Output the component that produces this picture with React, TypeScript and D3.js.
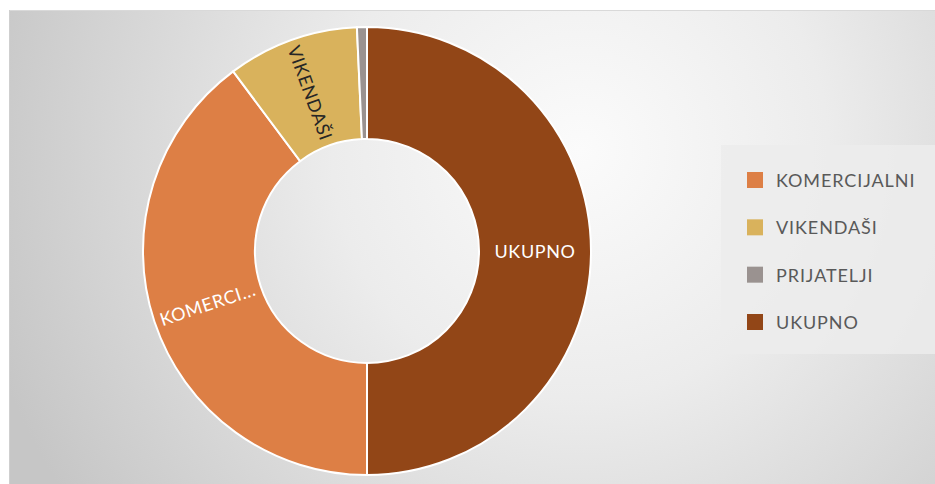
import React from "react";
import * as d3 from "d3";

const categories = ["KOMERCIJALNI", "VIKENDAŠI", "PRIJATELJI", "UKUPNO"];
const values = [832, 198, 15, 1045];
const colors = ["#dd7f45", "#d9b25c", "#9a9290", "#924617"];
const labelColors = ["#ffffff", "#262626", "#ffffff", "#ffffff"];

const W = 935;
const H = 484;
const cx = 367;
const cy = 251;
const outerR = 224;
const innerR = 112;
const FONT = "Lato, 'Open Sans', 'Liberation Sans', sans-serif";

function shortLabel(s: string) {
  return s.length > 9 ? s.slice(0, 7) + "..." : s;
}

export default function App() {
  const data = categories.map((c, i) => ({ name: c, value: values[i], i }));
  const pie = d3
    .pie<any>()
    .value((d) => d.value)
    .sort(null)
    .startAngle(Math.PI)
    .endAngle(3 * Math.PI);
  const arcs = pie(data);
  const arc = d3.arc<any>().innerRadius(innerR).outerRadius(outerR);
  const total = d3.sum(values);

  const legendY = d3.scalePoint<string>().domain(categories).range([180, 322]);

  return (
    <svg
      width={W}
      height={H}
      style={{ position: "absolute", left: 0, top: 0, display: "block" }}
      fontFamily={FONT}
    >
      <defs>
        <radialGradient id="bg" gradientUnits="userSpaceOnUse" cx={580} cy={150} r={620}>
          <stop offset="0" stopColor="#fbfbfb" />
          <stop offset="0.4" stopColor="#ececec" />
          <stop offset="1" stopColor="#c6c6c6" />
        </radialGradient>
      </defs>
      <rect x={0} y={0} width={W} height={H} fill="#ffffff" />
      <rect x={9} y={10} width={W - 9} height={H - 10} fill="url(#bg)" />
      <line x1={9} x2={W} y1={10.5} y2={10.5} stroke="#d9d9d9" />
      <line x1={9.5} x2={9.5} y1={10} y2={H} stroke="#cfcfcf" />
      <g transform={`translate(${cx},${cy})`}>
        {arcs.map((a) => (
          <path key={a.data.name} d={arc(a) as string} fill={colors[a.data.i]} stroke="#ffffff" strokeWidth={2} />
        ))}
        {arcs.map((a) => {
          if (a.data.value / total < 0.03) return null;
          const [x, y] = arc.centroid(a);
          const mid = (((a.startAngle + a.endAngle) / 2) * (180 / Math.PI)) % 360;
          let rot = mid - 270;
          while (rot <= -90) rot += 180;
          while (rot > 90) rot -= 180;
          return (
            <text
              key={"l" + a.data.name}
              transform={`translate(${x},${y}) rotate(${rot})`}
              textAnchor="middle"
              dominantBaseline="central"
              fontSize={18}
              letterSpacing={0.6}
              fill={labelColors[a.data.i]}
            >
              {shortLabel(a.data.name)}
            </text>
          );
        })}
      </g>
      <rect x={721} y={145} width={W - 721} height={209} fill="#ececec" opacity={0.85} />
      {categories.map((c, i) => (
        <g key={"lg" + c} transform={`translate(747,${legendY(c)})`}>
          <rect x={0} y={-8} width={16} height={16} fill={colors[i]} />
          <text x={29} y={0} dominantBaseline="central" fontSize={18} letterSpacing={0.9} fill="#595959">
            {c}
          </text>
        </g>
      ))}
    </svg>
  );
}
